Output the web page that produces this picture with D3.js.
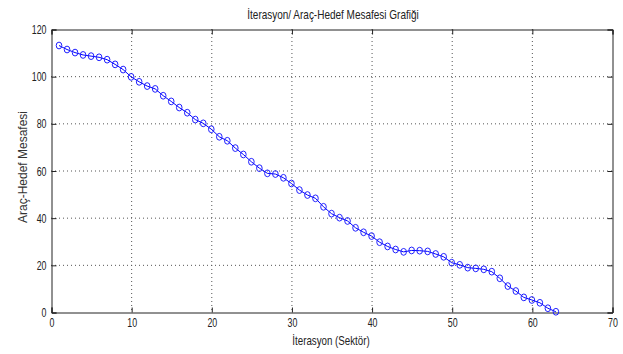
<!DOCTYPE html>
<html>
<head>
<meta charset="utf-8">
<script src="https://cdn.jsdelivr.net/npm/d3@7"></script>
<style>
  body { margin: 0; background: #fff; }
  text { font-family: "Liberation Sans", Arial, sans-serif; }
</style>
</head>
<body>
<svg class="distChart" width="623" height="354"></svg>
<script>
// iteration number and distance
const iterations = d3.range(1, 64);
const distances = [113, 111.3, 110, 109, 108.5, 108, 107, 105, 102.8, 99.7,
  97.6, 95.8, 94.6, 91.7, 89.3, 86.7, 84.5, 81.6, 80, 77.5,
  74.3, 72.6, 69.5, 66.8, 63.7, 61, 58.8, 58.5, 56.9, 54.5,
  51.7, 49.6, 48.2, 44.6, 41.7, 40, 38.6, 35.7, 33.8, 32.2,
  29.6, 27.8, 26.5, 25.5, 26.1, 26, 25.7, 24.6, 23.4, 20.9,
  20, 18.8, 18.5, 18.1, 17.1, 14.3, 11, 8.9, 6.2, 5.1,
  3.9, 1.6, 0.1];
const xTicks = [0, 10, 20, 30, 40, 50, 60, 70];
const yTicks = [0, 20, 40, 60, 80, 100, 120];

// the original uses a narrow font, squeeze regular text sideways
const squeeze = 0.68;

function drawDistChart(){
  const data = iterations.map((d, i) => ({ it: d, dist: distances[i] }));

  const margin = { top: 29, bottom: 42, left: 51, right: 11 };
  const width = 623 - margin.left - margin.right;
  const height = 354 - margin.top - margin.bottom;

  const x = d3.scaleLinear().domain([0, 70]).range([0, width]);
  const y = d3.scaleLinear().domain([0, 120]).range([height, 0]);

  const root = d3.select('svg.distChart');

  const svg = root.append('g')
    .attr('transform', `translate(${margin.left}, ${margin.top})`);

  // dotted grid
  svg.append('g')
    .selectAll('line')
    .data(xTicks.slice(1, -1))
    .enter().append('line')
      .attr('x1', d => x(d) + 0.5).attr('x2', d => x(d) + 0.5)
      .attr('y1', 0).attr('y2', height)
      .attr('stroke', '#555').attr('stroke-dasharray', '1,3');

  svg.append('g')
    .selectAll('line')
    .data(yTicks.slice(1, -1))
    .enter().append('line')
      .attr('y1', d => y(d) + 0.5).attr('y2', d => y(d) + 0.5)
      .attr('x1', 0).attr('x2', width)
      .attr('stroke', '#555').attr('stroke-dasharray', '1,3');

  // axes (ticks inside, matlab style)
  const xAxis = svg.append('g')
    .attr('transform', `translate(0.5, ${height + 0.5})`)
    .call(d3.axisBottom(x).tickValues(xTicks).tickSize(-5).tickPadding(5));
  const xTop = svg.append('g')
    .attr('transform', 'translate(0.5, 0.5)')
    .call(d3.axisTop(x).tickValues(xTicks).tickSize(-5).tickFormat(''));
  const yAxis = svg.append('g')
    .attr('transform', 'translate(0.5, 0.5)')
    .call(d3.axisLeft(y).tickValues(yTicks).tickSize(-5).tickPadding(5));
  const yRight = svg.append('g')
    .attr('transform', `translate(${width + 0.5}, 0.5)`)
    .call(d3.axisRight(y).tickValues(yTicks).tickSize(-5).tickFormat(''));

  [xAxis, xTop, yAxis, yRight].forEach(a => {
    a.select('.domain').attr('stroke', '#222');
    a.selectAll('.tick line').attr('stroke', '#222');
    a.selectAll('text').style('font-size', '13px').attr('fill', '#222')
      .attr('transform', `scale(${squeeze},1)`);
  });
  yAxis.selectAll('text').attr('x', -5 / squeeze);

  // line + markers
  const line = d3.line().x(d => x(d.it)).y(d => y(d.dist));

  svg.append('path')
    .datum(data)
    .attr('d', line)
    .attr('fill', 'none')
    .attr('stroke', '#0000ff')
    .attr('stroke-width', 1);

  svg.selectAll('ellipse.pt')
    .data(data)
    .enter().append('ellipse')
      .attr('class', 'pt')
      .attr('cx', d => x(d.it))
      .attr('cy', d => y(d.dist))
      .attr('rx', 2.8)
      .attr('ry', 3.4)
      .attr('fill', 'none')
      .attr('stroke', '#2020ff')
      .attr('stroke-width', 1);

  // labels
  root.append('text')
    .text('İterasyon/ Araç-Hedef Mesafesi Grafiği')
    .attr('transform', `translate(333, 19) scale(0.8,1)`)
    .style('font-size', '12.5px')
    .attr('fill', '#222')
    .style('text-anchor', 'middle');

  root.append('text')
    .text('İterasyon (Sektör)')
    .attr('transform', `translate(331, 345) scale(0.78,1)`)
    .style('font-size', '12.5px')
    .attr('fill', '#222')
    .style('text-anchor', 'middle');

  root.append('text')
    .text('Araç-Hedef Mesafesi')
    .attr('transform', 'translate(27, 167) rotate(-90)')
    .style('font-size', '12px')
    .attr('fill', '#333')
    .style('text-anchor', 'middle');
}

drawDistChart();
</script>
</body>
</html>
